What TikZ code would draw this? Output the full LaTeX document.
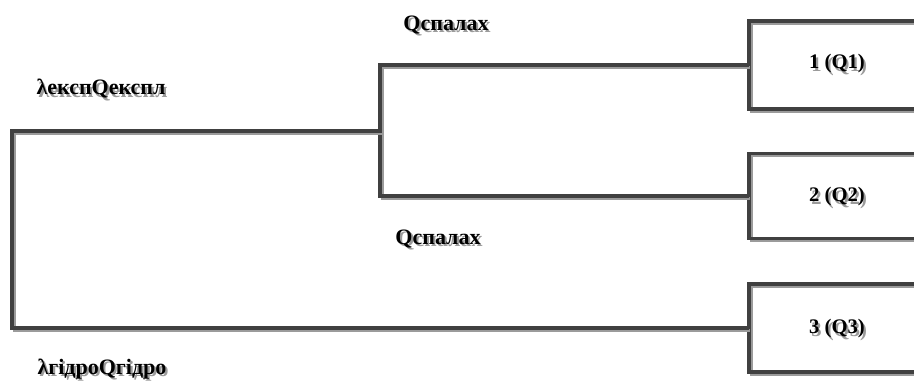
\documentclass[tikz,border=0pt]{standalone}
\usepackage{fontspec}
\setmainfont{Liberation Serif}

\definecolor{wiregray}{RGB}{64,64,64}
\definecolor{shadowgray}{RGB}{155,155,155}

% text with a grey copy behind it
\newcommand{\shtext}[1]{\leavevmode\rlap{\kern1.6pt\raisebox{-1.6pt}{\color{shadowgray}#1}}#1}

\tikzset{every picture/.style={line width=2.4pt}}
\tikzset{
	wire/.style={draw=wiregray, line cap=rect,
		preaction={draw=shadowgray, transform canvas={shift={(1.6pt,-1.6pt)}}}},
	unit/.style={wire, rectangle, inner sep=0pt, minimum width=132pt, minimum height=#1},
	unit/.default=66pt,
	lbl/.style={font=\bfseries\fontsize{15.5}{18}\selectfont, inner sep=0pt},
	flow/.style={font=\bfseries\fontsize{16.5}{19}\selectfont, inner sep=0pt}}

\begin{document}
\begin{tikzpicture}[x=0.75pt,y=0.75pt,yscale=-1,xscale=1]
	\useasboundingbox (0,0) rectangle (914,385);
	\clip (0,0) rectangle (914,385);

	%Shape: Rectangle [id:unit1] 
	\node [unit=66pt] (unit1) at (837,65) {};
	%Shape: Rectangle [id:unit2] 
	\node [unit=64pt] (unit2) at (837,196) {};
	%Shape: Rectangle [id:unit3] 
	\node [unit=66pt] (unit3) at (837,328) {};

	\coordinate (split) at (380,131);
	\coordinate (root) at (12,131);

	% Connectors
	\draw [wire] (unit1.west) -| (split) |- (unit2.west);
	\draw [wire] (split) -- (root) |- (unit3.west);

	% Text Node
	\draw (837,65) node [lbl] (t1) {\shtext{1 (Q1)}};
	% Text Node
	\draw (837,198) node [lbl] (t2) {\shtext{2 (Q2)}};
	% Text Node
	\draw (837,330) node [lbl] (t3) {\shtext{3 (Q3)}};
	% Text Node
	\draw (101,90) node [flow] (lexp) {\shtext{λекспQекспл}};
	% Text Node
	\draw (446,26) node [flow] (qtop) {\shtext{Qспалах}};
	% Text Node
	\draw (438,240) node [flow] (qbot) {\shtext{Qспалах}};
	% Text Node
	\draw (102,370) node [flow] (hydro) {\shtext{λгідроQгідро}};

\end{tikzpicture}
\end{document}
